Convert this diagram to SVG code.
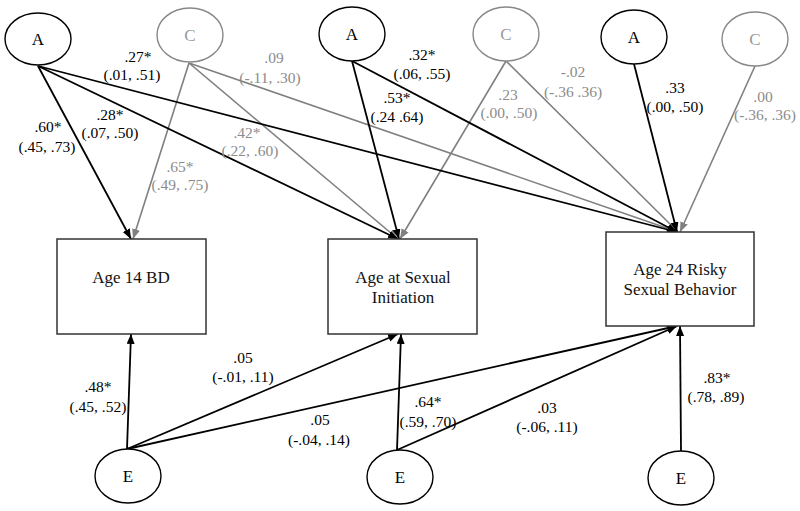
<svg xmlns="http://www.w3.org/2000/svg" width="800" height="511" viewBox="0 0 800 511" font-family="'Liberation Serif', 'Times New Roman', 'DejaVu Serif', serif">
<style>
.bg{fill:#fff}
.lat{fill:#fff;stroke:#000;stroke-width:1.4}
.latg{fill:#fff;stroke:#888;stroke-width:1.4}
.box{fill:#fff;stroke:#333;stroke-width:1.5}
.k{stroke:#000;stroke-width:1.8;fill:none}
.g{stroke:#808080;stroke-width:1.6;fill:none}
text{font-family:'Liberation Serif','Times New Roman','DejaVu Serif',serif;text-anchor:middle}
.nt{font-size:17px;fill:#000}
.ntg{font-size:17px;fill:#999}
.bt{font-size:17px;fill:#111}
.lk{font-size:15.5px;fill:#000}
.lg{font-size:15.5px;fill:#8c8c8c}
</style>
<defs>
<marker id="ak" markerUnits="userSpaceOnUse" markerWidth="11" markerHeight="9" refX="10" refY="4" orient="auto"><path d="M0,0 L10,4 L0,8 z" fill="#000"/></marker>
<marker id="ag" markerUnits="userSpaceOnUse" markerWidth="11" markerHeight="9" refX="10" refY="4" orient="auto"><path d="M0,0 L10,4 L0,8 z" fill="#808080"/></marker>
</defs>
<rect class="bg" x="0" y="0" width="800" height="511"/>
<g id="connectors">
<line class="g" x1="189" y1="63" x2="133" y2="239" marker-end="url(#ag)"/>
<line class="g" x1="189" y1="63" x2="398" y2="239" marker-end="url(#ag)"/>
<line class="g" x1="189" y1="63" x2="678" y2="232" marker-end="url(#ag)"/>
<line class="g" x1="506" y1="61" x2="400" y2="239" marker-end="url(#ag)"/>
<line class="g" x1="506" y1="61" x2="678" y2="232" marker-end="url(#ag)"/>
<line class="g" x1="755" y1="66" x2="680" y2="232" marker-end="url(#ag)"/>
<line class="k" x1="38" y1="66" x2="131" y2="239" marker-end="url(#ak)"/>
<line class="k" x1="38" y1="66" x2="398" y2="239" marker-end="url(#ak)"/>
<line class="k" x1="38" y1="66" x2="677" y2="232" marker-end="url(#ak)"/>
<line class="k" x1="352" y1="61" x2="399" y2="239" marker-end="url(#ak)"/>
<line class="k" x1="352" y1="61" x2="677" y2="232" marker-end="url(#ak)"/>
<line class="k" x1="634" y1="64" x2="677" y2="232" marker-end="url(#ak)"/>
<line class="k" x1="127" y1="449" x2="131" y2="334" marker-end="url(#ak)"/>
<line class="k" x1="127" y1="449" x2="398" y2="334" marker-end="url(#ak)"/>
<line class="k" x1="127" y1="449" x2="677" y2="326" marker-end="url(#ak)"/>
<line class="k" x1="397" y1="450" x2="401" y2="334" marker-end="url(#ak)"/>
<line class="k" x1="397" y1="450" x2="677" y2="326" marker-end="url(#ak)"/>
<line class="k" x1="681" y1="451" x2="680" y2="326" marker-end="url(#ak)"/>
</g>
<g id="A1"><ellipse class="lat" cx="38" cy="39" rx="33" ry="26"/><text class="nt" x="38" y="45">A</text></g>
<g id="C1"><ellipse class="latg" cx="190" cy="35" rx="33" ry="27"/><text class="ntg" x="190" y="41">C</text></g>
<g id="A2"><ellipse class="lat" cx="352" cy="34" rx="33" ry="27"/><text class="nt" x="352" y="40">A</text></g>
<g id="C2"><ellipse class="latg" cx="506" cy="34" rx="33" ry="27"/><text class="ntg" x="506" y="40">C</text></g>
<g id="A3"><ellipse class="lat" cx="634" cy="37" rx="33" ry="27"/><text class="nt" x="634" y="43">A</text></g>
<g id="C3"><ellipse class="latg" cx="755" cy="39" rx="33" ry="27"/><text class="ntg" x="755" y="45">C</text></g>
<g id="box1"><rect class="box" x="57" y="239" width="149" height="95"/><text class="bt" x="131" y="283">Age 14 BD</text></g>
<g id="box2"><rect class="box" x="328" y="239" width="149" height="95"/><text class="bt" x="403" y="283">Age at Sexual</text><text class="bt" x="403" y="303">Initiation</text></g>
<g id="box3"><rect class="box" x="606" y="232" width="148" height="94"/><text class="bt" x="680" y="275">Age 24 Risky</text><text class="bt" x="680" y="295">Sexual Behavior</text></g>
<g id="E1"><ellipse class="lat" cx="128" cy="476" rx="33" ry="27"/><text class="nt" x="128" y="482">E</text></g>
<g id="E2"><ellipse class="lat" cx="400" cy="477" rx="33" ry="27"/><text class="nt" x="400" y="483">E</text></g>
<g id="E3"><ellipse class="lat" cx="681" cy="478" rx="33" ry="27"/><text class="nt" x="681" y="484">E</text></g>
<g id="labels">
<text class="lk" x="138" y="62">.27*</text><text class="lk" x="132" y="80">(.01, .51)</text>
<text class="lk" x="48" y="132">.60*</text><text class="lk" x="47" y="152">(.45, .73)</text>
<text class="lk" x="110" y="120">.28*</text><text class="lk" x="110" y="138">(.07, .50)</text>
<text class="lg" x="180" y="172">.65*</text><text class="lg" x="180" y="190">(.49, .75)</text>
<text class="lg" x="247" y="138">.42*</text><text class="lg" x="250" y="156">(.22, .60)</text>
<text class="lg" x="274" y="63">.09</text><text class="lg" x="270" y="83">(-.11, .30)</text>
<text class="lk" x="422" y="60">.32*</text><text class="lk" x="422" y="79">(.06, .55)</text>
<text class="lk" x="397" y="103">.53*</text><text class="lk" x="397" y="122">(.24 .64)</text>
<text class="lg" x="508" y="100">.23</text><text class="lg" x="509" y="118">(.00, .50)</text>
<text class="lg" x="573" y="77">-.02</text><text class="lg" x="573" y="97">(-.36 .36)</text>
<text class="lk" x="675" y="93">.33</text><text class="lk" x="675" y="112">(.00, .50)</text>
<text class="lg" x="763" y="102">.00</text><text class="lg" x="765" y="120">(-.36, .36)</text>
<text class="lk" x="98" y="392">.48*</text><text class="lk" x="98" y="412">(.45, .52)</text>
<text class="lk" x="243" y="363">.05</text><text class="lk" x="243" y="382">(-.01, .11)</text>
<text class="lk" x="320" y="425">.05</text><text class="lk" x="319" y="445">(-.04, .14)</text>
<text class="lk" x="428" y="407">.64*</text><text class="lk" x="428" y="427">(.59, .70)</text>
<text class="lk" x="547" y="413">.03</text><text class="lk" x="547" y="432">(-.06, .11)</text>
<text class="lk" x="717" y="383">.83*</text><text class="lk" x="716" y="402">(.78, .89)</text>
</g>
</svg>
